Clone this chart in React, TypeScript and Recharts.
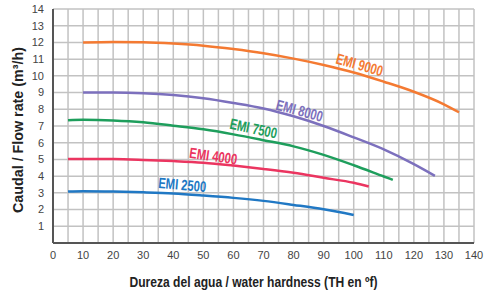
import * as React from "react";
import { LineChart, Line, XAxis, YAxis, CartesianGrid } from "recharts";

// Flow rate (m3/h) vs water hardness (TH in ºf)
const emi9000 = [
  { h: 10, q: 12.0 }, { h: 20, q: 12.03 }, { h: 30, q: 12.01 }, { h: 40, q: 11.93 },
  { h: 50, q: 11.8 }, { h: 60, q: 11.6 }, { h: 70, q: 11.35 }, { h: 80, q: 11.03 },
  { h: 90, q: 10.65 }, { h: 100, q: 10.2 }, { h: 110, q: 9.65 }, { h: 120, q: 9.05 },
  { h: 130, q: 8.3 }, { h: 135, q: 7.82 },
];
const emi8000 = [
  { h: 10, q: 9.0 }, { h: 20, q: 9.0 }, { h: 30, q: 8.96 }, { h: 40, q: 8.85 },
  { h: 50, q: 8.66 }, { h: 60, q: 8.38 }, { h: 70, q: 8.05 }, { h: 80, q: 7.58 },
  { h: 90, q: 7.0 }, { h: 100, q: 6.32 }, { h: 110, q: 5.6 }, { h: 120, q: 4.72 },
  { h: 127, q: 4.02 },
];
const emi7500 = [
  { h: 5, q: 7.35 }, { h: 10, q: 7.37 }, { h: 20, q: 7.33 }, { h: 30, q: 7.22 },
  { h: 40, q: 7.02 }, { h: 50, q: 6.8 }, { h: 60, q: 6.5 }, { h: 70, q: 6.15 },
  { h: 80, q: 5.78 }, { h: 90, q: 5.27 }, { h: 100, q: 4.65 }, { h: 110, q: 3.98 },
  { h: 113, q: 3.78 },
];
const emi4000 = [
  { h: 5, q: 5.02 }, { h: 10, q: 5.03 }, { h: 20, q: 5.02 }, { h: 30, q: 4.97 },
  { h: 40, q: 4.9 }, { h: 50, q: 4.8 }, { h: 60, q: 4.63 }, { h: 70, q: 4.43 },
  { h: 80, q: 4.2 }, { h: 90, q: 3.9 }, { h: 100, q: 3.6 }, { h: 105, q: 3.38 },
];
const emi2500 = [
  { h: 5, q: 3.08 }, { h: 10, q: 3.1 }, { h: 20, q: 3.08 }, { h: 30, q: 3.03 },
  { h: 40, q: 2.96 }, { h: 50, q: 2.84 }, { h: 60, q: 2.7 }, { h: 70, q: 2.52 },
  { h: 80, q: 2.28 }, { h: 90, q: 2.02 }, { h: 100, q: 1.68 },
];

const xTicks = Array.from({ length: 29 }, (_, i) => i * 5);
const yTicks = Array.from({ length: 15 }, (_, i) => i);

const SANS = "'Liberation Sans', Arial, sans-serif";

// name, data, colour, point the label hangs off, label offset and angle
const SERIES = [
  { name: "EMI 9000", data: emi9000, color: "#F47A32", at: 100, dx: 6, dy: -8, angle: 16 },
  { name: "EMI 8000", data: emi8000, color: "#7C70BD", at: 80, dx: 6, dy: -6, angle: 15 },
  { name: "EMI 7500", data: emi7500, color: "#1E9E5C", at: 70, dx: -10, dy: -12, angle: 12 },
  { name: "EMI 4000", data: emi4000, color: "#EB3560", at: 50, dx: 10, dy: -7, angle: 8 },
  { name: "EMI 2500", data: emi2500, color: "#2078C4", at: 40, dx: 9, dy: -9, angle: 5 },
];

function curveLabel(s: (typeof SERIES)[number]) {
  return (props: any) => {
    const pt = s.data[props.index];
    if (!pt || pt.h !== s.at) return null;
    const cx = props.x + s.dx;
    const cy = props.y + s.dy;
    return (
      <text
        key={s.name}
        x={cx}
        y={cy}
        transform={`rotate(${s.angle}, ${cx}, ${cy})`}
        textAnchor="middle"
        dominantBaseline="central"
        fill={s.color}
        fontFamily={SANS}
        fontWeight="bold"
        fontSize={15}
        textLength={48}
        lengthAdjust="spacingAndGlyphs"
      >
        {s.name}
      </text>
    );
  };
}

export default function App() {
  const tick = { fontSize: 11, fill: "#444", fontFamily: SANS };
  return (
    <div style={{ position: "absolute", left: 0, top: 0, background: "#fff" }}>
      <LineChart width={484} height={291} margin={{ top: 9, right: 10, left: 0, bottom: 0 }}>
        <CartesianGrid stroke="#c2c2c2" strokeWidth={1.5} />
        <XAxis
          type="number"
          dataKey="h"
          domain={[0, 140]}
          ticks={xTicks}
          interval={0}
          tickFormatter={(v: number) => (v % 10 === 0 ? String(v) : "")}
          tickLine={false}
          tickSize={0}
          tickMargin={8}
          height={48}
          axisLine={{ stroke: "#555", strokeWidth: 2 }}
          tick={tick}
          allowDuplicatedCategory={false}
          label={{
            content: ({ viewBox }: any) => (
              <text
                x={viewBox.x + viewBox.width / 2 - 10}
                y={viewBox.y + 44}
                textAnchor="middle"
                fontFamily={SANS}
                fontWeight="bold"
                fontSize={15}
                fill="#222"
                textLength={248}
                lengthAdjust="spacingAndGlyphs"
              >
                Dureza del agua / water hardness (TH en ºf)
              </text>
            ),
          }}
        />
        <YAxis
          type="number"
          dataKey="q"
          domain={[0, 14]}
          ticks={yTicks}
          interval={0}
          tickFormatter={(v: number) => (v === 0 ? "" : String(v))}
          tickLine={false}
          tickSize={0}
          tickMargin={9}
          width={53}
          axisLine={{ stroke: "#555", strokeWidth: 2 }}
          tick={tick}
          label={{
            content: ({ viewBox }: any) => {
              const x = viewBox.x + 17;
              const y = viewBox.y + viewBox.height / 2 + 4;
              return (
                <text
                  x={x}
                  y={y}
                  transform={`rotate(-90, ${x}, ${y})`}
                  textAnchor="middle"
                  dominantBaseline="central"
                  fontFamily={SANS}
                  fontWeight="bold"
                  fontSize={15}
                  fill="#222"
                  textLength={166}
                  lengthAdjust="spacingAndGlyphs"
                >
                  Caudal / Flow rate (m³/h)
                </text>
              );
            },
          }}
        />
        {SERIES.map((s) => (
          <Line
            key={s.name}
            data={s.data}
            dataKey="q"
            type="monotone"
            stroke={s.color}
            strokeWidth={2.5}
            dot={false}
            activeDot={false}
            isAnimationActive={false}
            label={curveLabel(s)}
          />
        ))}
      </LineChart>
    </div>
  );
}
